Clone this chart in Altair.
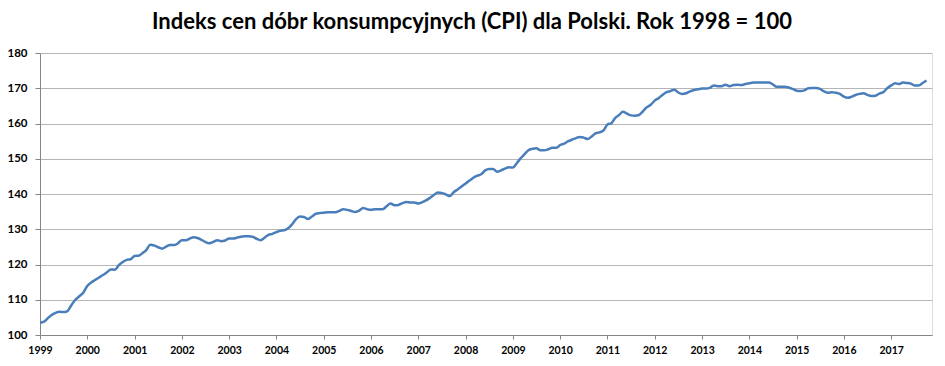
import altair as alt
import pandas as pd

# Monthly CPI values (1998 = 100)
y1999 = [103.5, 103.8, 104.7, 105.7, 106.3, 106.6, 106.5, 106.8, 108.5, 110.0, 111.0, 112.0]
y2000 = [113.9, 114.9, 115.6, 116.3, 117.0, 117.8, 118.6, 118.5, 119.8, 120.7, 121.3, 121.5]
y2001 = [122.4, 122.5, 123.2, 124.1, 125.6, 125.4, 124.9, 124.5, 125.1, 125.5, 125.5, 126.0]
y2002 = [126.9, 126.9, 127.3, 127.7, 127.5, 127.0, 126.4, 126.0, 126.4, 126.9, 126.6, 126.8]
y2003 = [127.4, 127.4, 127.6, 127.9, 128.0, 128.0, 127.9, 127.3, 126.9, 127.6, 128.4, 128.7]
y2004 = [129.2, 129.6, 129.7, 130.3, 131.4, 132.9, 133.6, 133.5, 132.9, 133.6, 134.4, 134.6]
y2005 = [134.7, 134.8, 134.8, 134.8, 135.2, 135.7, 135.5, 135.2, 134.9, 135.3, 136.0, 135.7]
y2006 = [135.5, 135.7, 135.7, 135.7, 136.5, 137.3, 136.8, 136.9, 137.4, 137.7, 137.6, 137.6]
y2007 = [137.3, 137.7, 138.2, 138.9, 139.7, 140.4, 140.3, 139.9, 139.4, 140.5, 141.3, 142.1]
y2008 = [143.0, 143.8, 144.6, 145.2, 145.6, 146.7, 147.1, 147.1, 146.3, 146.7, 147.2, 147.6]
y2009 = [147.5, 148.8, 150.1, 151.3, 152.4, 152.8, 153.0, 152.4, 152.4, 152.7, 153.1, 153.1]
y2010 = [153.9, 154.3, 154.9, 155.4, 155.8, 156.2, 156.0, 155.6, 156.3, 157.2, 157.5, 158.0]
y2011 = [159.7, 160.1, 161.5, 162.4, 163.3, 162.8, 162.3, 162.2, 162.4, 163.4, 164.6, 165.3]
y2012 = [166.5, 167.2, 168.1, 168.9, 169.2, 169.6, 168.8, 168.4, 168.6, 169.1, 169.5, 169.7]
y2013 = [169.9, 169.9, 170.1, 170.8, 170.6, 170.6, 171.0, 170.6, 170.9, 171.0, 170.9, 171.2]
y2014 = [171.4, 171.6, 171.6, 171.6, 171.6, 171.6, 171.1, 170.4, 170.4, 170.4, 170.2, 169.8]
y2015 = [169.3, 169.2, 169.4, 170.0, 170.1, 170.1, 169.8, 169.1, 168.7, 168.9, 168.7, 168.4]
y2016 = [167.6, 167.3, 167.6, 168.1, 168.4, 168.6, 168.1, 167.8, 167.9, 168.5, 168.9, 170.0]
y2017 = [170.8, 171.4, 171.2, 171.6, 171.5, 171.3, 170.8, 170.8, 171.5, 172.2]

years_values = [y1999, y2000, y2001, y2002, y2003, y2004, y2005, y2006, y2007,
                y2008, y2009, y2010, y2011, y2012, y2013, y2014, y2015, y2016, y2017]
values = [v for yr in years_values for v in yr]
dates = pd.date_range("1999-01-01", periods=len(values), freq="MS")
df = pd.DataFrame({"data": dates.strftime("%Y-%m-%dT00:00:00"), "cpi": values})

tick_years = list(range(1999, 2018))
FONT = "Lato"

line = alt.Chart(df).mark_line(color="#4a7ebb", strokeWidth=2.5, interpolate="monotone").encode(
    x=alt.X(
        "data:T",
        scale=alt.Scale(domain=[alt.DateTime(year=1999, month=1, date=1),
                                alt.DateTime(year=2017, month=11, date=12)]),
        axis=alt.Axis(
            title=None,
            values=[alt.DateTime(year=y, month=1, date=1) for y in tick_years],
            format="%Y",
            grid=False,
            domainColor="#868686",
            tickColor="#868686",
            tickSize=4,
            labelPadding=6,
            labelFont=FONT,
            labelFontSize=10.5,
            labelFontWeight="bold",
            labelColor="#000000",
            labelAlign="center",
            labelOverlap=False,
        ),
    ),
    y=alt.Y(
        "cpi:Q",
        scale=alt.Scale(domain=[100, 180], nice=False, zero=False),
        axis=alt.Axis(
            title=None,
            values=list(range(100, 181, 10)),
            gridColor="#b5b5b5",
            gridWidth=1,
            domainColor="#868686",
            tickColor="#868686",
            tickSize=5,
            labelPadding=8,
            labelFont=FONT,
            labelFontSize=11.5,
            labelFontWeight="bold",
            labelColor="#000000",
        ),
    ),
)

chart = line.properties(
    width=892,
    height=282,
    autosize=alt.AutoSizeParams(type="none"),
    padding={"left": 32, "top": 45, "right": 5, "bottom": 23},
    title=alt.TitleParams(
        "Indeks cen dóbr konsumpcyjnych (CPI) dla Polski. Rok 1998 = 100",
        font=FONT,
        fontSize=22,
        fontWeight="bold",
        color="#000000",
        anchor="middle",
        dx=-14,
        offset=13,
    ),
).configure_view(stroke=None).configure(background="white")

chart.save("out.html", embed_options={"renderer": "svg", "actions": False})
